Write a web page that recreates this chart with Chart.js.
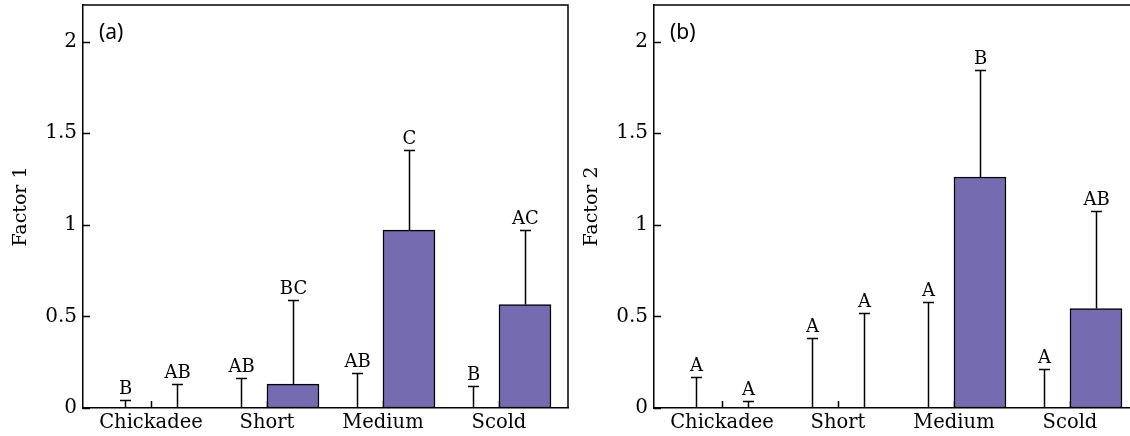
<!DOCTYPE html>
<html>
<head>
<meta charset="utf-8">
<script src="https://cdn.jsdelivr.net/npm/chart.js@4/dist/chart.umd.min.js"></script>
<style>
  html, body { margin: 0; padding: 0; background: #fff; overflow: hidden; width: 1130px; height: 436px; }
  .panel { position: absolute; top: 0; }
  #wrapA { left: 0; }
  #wrapB { left: 571px; }
</style>
</head>
<body>
<div class="panel" id="wrapA"><canvas id="chartA" width="580" height="436"></canvas></div>
<div class="panel" id="wrapB"><canvas id="chartB" width="580" height="436"></canvas></div>
<script>
// Call types on the x axis
const categories = ['Chickadee', 'Short', 'Medium', 'Scold'];
const yTicks = [0, 0.5, 1, 1.5, 2];

// Factor 1: open (left) bars and filled (right) bars, means and upper SE
const f1OpenMean = [0, 0, 0, 0];
const f1OpenSE = [0.042, 0.166, 0.193, 0.12];
const f1OpenLetters = ['B', 'AB', 'AB', 'B'];
const f1FilledMean = [0, 0.13, 0.971, 0.565];
const f1FilledSE = [0.131, 0.46, 0.44, 0.404];
const f1FilledLetters = ['AB', 'BC', 'C', 'AC'];

// Factor 2
const f2OpenMean = [0, 0, 0, 0];
const f2OpenSE = [0.171, 0.381, 0.576, 0.215];
const f2OpenLetters = ['A', 'A', 'A', 'A'];
const f2FilledMean = [0, 0, 1.261, 0.543];
const f2FilledSE = [0.04, 0.521, 0.583, 0.535];
const f2FilledLetters = ['A', 'A', 'B', 'AB'];

const SERIF = "'DejaVu Serif', serif";
const SANS = "'Noto Sans', sans-serif";
const INK = '#000';
const PURPLE = '#756bb1';

// Inward tick marks, frame, error bars and letters
const decorPlugin = {
  id: 'decor',
  beforeDatasetsDraw(chart) {
    const { ctx, chartArea: a, scales: { x, y } } = chart;
    ctx.save();
    ctx.strokeStyle = INK;
    ctx.lineWidth = 1.5;
    ctx.beginPath();
    yTicks.forEach(v => {
      const py = Math.round(y.getPixelForValue(v)) + 0.5;
      ctx.moveTo(a.left, py);
      ctx.lineTo(a.left + 7, py);
    });
    categories.forEach((c, i) => {
      const px = Math.round(x.getPixelForValue(i)) + 0.5;
      ctx.moveTo(px, a.bottom);
      ctx.lineTo(px, a.bottom - 7);
    });
    ctx.stroke();
    ctx.restore();
  },
  afterDatasetsDraw(chart, args, opts) {
    const { ctx, chartArea: a, scales: { y } } = chart;
    ctx.save();
    ctx.strokeStyle = INK;
    ctx.lineWidth = 1.5;
    // top and right frame lines
    ctx.beginPath();
    ctx.moveTo(a.left, a.top);
    ctx.lineTo(a.right, a.top);
    ctx.lineTo(a.right, a.bottom);
    ctx.stroke();
    // error bars with letters
    chart.data.datasets.forEach((ds, di) => {
      const meta = chart.getDatasetMeta(di);
      meta.data.forEach((bar, i) => {
        const mean = ds.data[i].y;
        const top = mean + ds.se[i];
        const px = Math.round(bar.x) + 0.5;
        const y0 = y.getPixelForValue(mean);
        const y1 = Math.round(y.getPixelForValue(top)) + 0.5;
        ctx.beginPath();
        ctx.moveTo(px, y0);
        ctx.lineTo(px, y1);
        ctx.moveTo(px - 5.5, y1);
        ctx.lineTo(px + 5.5, y1);
        ctx.stroke();
        ctx.fillStyle = INK;
        ctx.font = '18px ' + SERIF;
        ctx.textAlign = 'center';
        ctx.textBaseline = 'alphabetic';
        ctx.fillText(ds.letters[i], px, y1 - 7);
      });
    });
    // panel tag
    ctx.font = '21px ' + SANS;
    ctx.textAlign = 'left';
    ctx.textBaseline = 'alphabetic';
    ctx.fillText(opts.tag, a.left + 16, a.top + 34);
    ctx.restore();
  }
};

function toPoints(values) {
  return values.map((v, i) => ({ x: i, y: v }));
}

function noEdgePadding(s) {
  s.paddingTop = 0;
  s.paddingBottom = 0;
  s.paddingLeft = 0;
  s.paddingRight = 0;
}

function makeChart(canvasId, tag, title, openMean, openSE, openLetters, filledMean, filledSE, filledLetters) {
  return new Chart(document.getElementById(canvasId), {
    type: 'bar',
    data: {
      datasets: [
        {
          data: toPoints(openMean), se: openSE, letters: openLetters,
          backgroundColor: 'rgba(0,0,0,0)', borderWidth: 0
        },
        {
          data: toPoints(filledMean), se: filledSE, letters: filledLetters,
          backgroundColor: PURPLE, borderColor: INK, borderWidth: 1.5, borderSkipped: false
        }
      ]
    },
    options: {
      responsive: false,
      animation: false,
      events: [],
      barThickness: 52,
      layout: { padding: { left: 0, right: 12, top: 5, bottom: 0 } },
      plugins: { legend: { display: false }, tooltip: { enabled: false }, decor: { tag } },
      scales: {
        x: {
          type: 'linear',
          offset: false,
          min: -0.586,
          max: 3.595,
          grid: { display: false, drawTicks: false, offset: false },
          border: { display: true, color: INK, width: 1.5 },
          afterBuildTicks: s => { s.ticks = categories.map((c, i) => ({ value: i })); },
          afterFit: s => { s.height = 28; noEdgePadding(s); },
          ticks: {
            autoSkip: false, maxRotation: 0, minRotation: 0, padding: 3,
            color: INK, font: { family: SERIF, size: 19.5 },
            callback: v => categories[v]
          }
        },
        y: {
          min: 0,
          max: 2.2,
          grid: { display: false, drawTicks: false },
          border: { display: true, color: INK, width: 1.5 },
          afterBuildTicks: s => { s.ticks = yTicks.map(v => ({ value: v })); },
          afterFit: s => { s.width = 83; noEdgePadding(s); },
          ticks: {
            padding: 6, color: INK, font: { family: SERIF, size: 20 },
            callback: v => String(v)
          },
          title: {
            display: true, text: title, color: INK,
            font: { family: SERIF, size: 19 }, padding: { top: 10, bottom: 0 }
          }
        }
      }
    },
    plugins: [decorPlugin]
  });
}

makeChart('chartA', '(a)', 'Factor 1', f1OpenMean, f1OpenSE, f1OpenLetters, f1FilledMean, f1FilledSE, f1FilledLetters);
makeChart('chartB', '(b)', 'Factor 2', f2OpenMean, f2OpenSE, f2OpenLetters, f2FilledMean, f2FilledSE, f2FilledLetters);
</script>
</body>
</html>
